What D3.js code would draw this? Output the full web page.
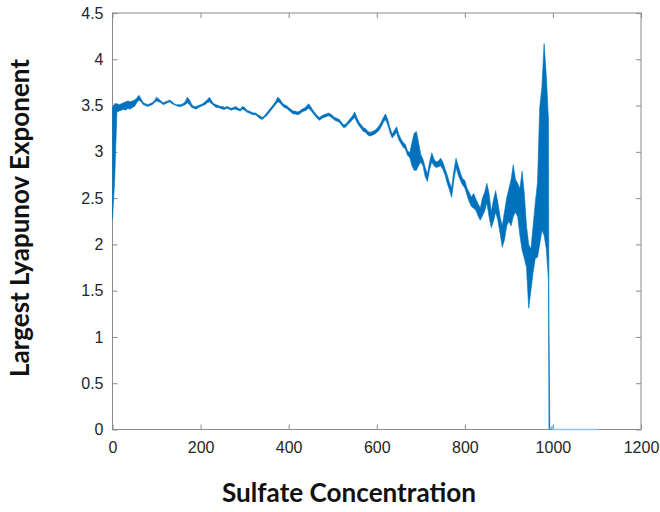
<!DOCTYPE html>
<html><head><meta charset="utf-8">
<script src="https://cdn.jsdelivr.net/npm/d3@7"></script>
<style>body{margin:0;background:#fff}</style>
</head><body>
<svg id="c" width="660" height="512"></svg>
<script>
// Sulfate concentration sample positions
const concentration = [
  0,5,10,15,20,25,30,35,40,45,
  50,55,60,65,70,75,80,85,90,95,
  100,105,110,115,120,125,130,135,140,145,
  150,155,160,165,170,175,180,185,190,195,
  200,205,210,215,220,225,230,235,240,245,
  250,255,260,265,270,275,280,285,290,295,
  300,305,310,315,320,325,330,335,340,345,
  350,355,360,365,370,375,380,385,390,395,
  400,405,410,415,420,425,430,435,440,445,
  450,455,460,465,470,475,480,485,490,495,
  500,505,510,515,520,525,530,535,540,545,
  550,555,560,565,570,575,580,585,590,595,
  600,605,610,615,620,625,630,635,640,645,
  650,655,660,665,670,675,680,685,690,695,
  700,705,710,715,720,725,730,735,740,745,
  750,755,760,765,770,775,780,785,790,795,
  800,805,810,815,820,825,830,835,840,845,
  850,855,860,865,870,875,880,885,890,895,
  900,905,910,915,920,925,930,935,940,945,
  950,955,960,965,970,975,980,985,990,
  991,993,998,1000,1100
];
// Lower edge of the Lyapunov exponent trace at each position
const lyapunovLow = [
  2.27,2.70,3.43,3.44,3.45,3.46,3.45,3.47,3.46,3.48,
  3.49,3.53,3.56,3.54,3.51,3.50,3.49,3.50,3.51,3.53,
  3.55,3.54,3.53,3.51,3.52,3.53,3.54,3.52,3.51,3.50,
  3.49,3.49,3.50,3.51,3.53,3.51,3.48,3.47,3.46,3.48,
  3.49,3.50,3.51,3.53,3.54,3.52,3.50,3.48,3.48,3.47,
  3.46,3.46,3.47,3.46,3.45,3.46,3.46,3.45,3.44,3.46,
  3.45,3.43,3.42,3.41,3.40,3.40,3.38,3.36,3.35,3.37,
  3.39,3.42,3.45,3.48,3.51,3.54,3.53,3.50,3.48,3.47,
  3.45,3.43,3.41,3.41,3.40,3.41,3.43,3.44,3.45,3.47,
  3.45,3.42,3.39,3.36,3.34,3.36,3.37,3.38,3.39,3.38,
  3.36,3.34,3.33,3.32,3.29,3.26,3.27,3.30,3.32,3.35,
  3.37,3.32,3.28,3.25,3.22,3.21,3.18,3.17,3.18,3.19,
  3.21,3.23,3.27,3.32,3.35,3.29,3.21,3.15,3.18,3.21,
  3.13,3.09,3.05,3.03,2.96,2.94,2.85,2.80,2.80,2.85,
  2.89,2.85,2.73,2.68,2.81,2.89,2.85,2.83,2.84,2.85,
  2.81,2.75,2.66,2.59,2.51,2.69,2.83,2.75,2.69,2.64,
  2.61,2.53,2.46,2.41,2.39,2.37,2.31,2.26,2.31,2.36,
  2.45,2.30,2.18,2.25,2.35,2.26,2.12,1.97,2.05,2.20,
  2.25,2.20,2.30,2.35,2.30,2.10,1.94,1.85,1.75,1.31,
  1.50,1.70,1.85,1.86,2.00,2.15,2.10,1.95,1.61,
  0,0,0,0,0
];
// Upper edge of the Lyapunov exponent trace at each position
const lyapunovHigh = [
  3.48,3.52,3.52,3.51,3.52,3.53,3.54,3.55,3.54,3.55,
  3.56,3.58,3.61,3.57,3.53,3.52,3.51,3.52,3.53,3.55,
  3.59,3.57,3.55,3.53,3.54,3.55,3.56,3.54,3.52,3.51,
  3.51,3.51,3.52,3.54,3.59,3.56,3.51,3.49,3.49,3.50,
  3.51,3.52,3.54,3.56,3.59,3.55,3.52,3.51,3.50,3.49,
  3.49,3.48,3.49,3.48,3.47,3.48,3.49,3.47,3.46,3.49,
  3.48,3.45,3.44,3.43,3.42,3.42,3.40,3.39,3.37,3.39,
  3.42,3.45,3.48,3.51,3.54,3.59,3.57,3.53,3.51,3.50,
  3.48,3.46,3.44,3.44,3.43,3.44,3.46,3.47,3.49,3.52,
  3.49,3.45,3.42,3.39,3.37,3.39,3.40,3.41,3.42,3.41,
  3.39,3.37,3.36,3.35,3.32,3.29,3.30,3.33,3.36,3.39,
  3.43,3.37,3.32,3.29,3.26,3.25,3.22,3.21,3.22,3.23,
  3.25,3.28,3.32,3.37,3.41,3.35,3.26,3.19,3.23,3.27,
  3.19,3.14,3.10,3.08,3.01,2.99,3.10,3.20,3.22,3.10,
  2.97,2.92,2.83,2.76,2.89,2.99,2.92,2.89,2.90,2.93,
  2.89,2.82,2.75,2.67,2.61,2.79,2.93,2.85,2.77,2.71,
  2.69,2.61,2.56,2.51,2.55,2.49,2.44,2.39,2.50,2.56,
  2.66,2.55,2.35,2.48,2.58,2.45,2.30,2.20,2.35,2.50,
  2.60,2.70,2.86,2.70,2.66,2.60,2.79,2.55,2.20,2.00,
  1.95,2.20,2.45,2.67,3.48,3.70,4.17,3.82,3.34,
  1.16,0,0.03,0,0
];
const xTicks = [0,200,400,600,800,1000,1200];
const yTicks = [0,0.5,1,1.5,2,2.5,3,3.5,4,4.5];
const xTitle = "Sulfate Concentration";
const yTitle = "Largest Lyapunov Exponent";

const svg = d3.select("#c");
const L = 112.5, R = 641, T = 13, B = 429.5;
const x = d3.scaleLinear().domain([0, 1200]).range([L, R]);
const y = d3.scaleLinear().domain([0, 4.5]).range([B, T]);
const axisColor = "#8a8a8a", textColor = "#262626", lineColor = "#0072BD";

svg.append("rect").attr("x", L).attr("y", T).attr("width", R - L).attr("height", B - T).attr("fill", "#fff");

function styleAxis(g, labels) {
  g.select(".domain").remove();
  g.selectAll(".tick line").attr("stroke", axisColor);
  g.selectAll(".tick text").attr("fill", textColor)
    .style("font-family", "'Liberation Sans', Arial, sans-serif").style("font-size", "16px");
  if (!labels) g.selectAll(".tick text").remove();
}
svg.append("g").attr("transform", `translate(0,${B})`)
  .call(d3.axisBottom(x).tickValues(xTicks).tickSizeInner(-5).tickSizeOuter(0).tickPadding(12).tickFormat(d3.format("d")))
  .call(g => styleAxis(g, true));
svg.append("g").attr("transform", `translate(0,${T})`)
  .call(d3.axisTop(x).tickValues(xTicks).tickSizeInner(-5).tickSizeOuter(0))
  .call(g => styleAxis(g, false));
svg.append("g").attr("transform", `translate(${L},0)`)
  .call(d3.axisLeft(y).tickValues(yTicks).tickSizeInner(-5).tickSizeOuter(0).tickPadding(9).tickFormat(d => String(d)))
  .call(g => styleAxis(g, true));
svg.append("g").attr("transform", `translate(${R},0)`)
  .call(d3.axisRight(y).tickValues(yTicks).tickSizeInner(-5).tickSizeOuter(0))
  .call(g => styleAxis(g, false));

svg.append("rect").attr("x", L).attr("y", T).attr("width", R - L).attr("height", B - T)
  .attr("fill", "none").attr("stroke", axisColor).attr("stroke-width", 1);

// trace drawn as the band between its lower and upper edges
const trace = concentration.map((c, i) => ({ c, lo: lyapunovLow[i], hi: lyapunovHigh[i] }));
const band = d3.area().x(d => x(d.c)).y0(d => y(d.lo)).y1(d => y(d.hi));
svg.append("path").attr("d", band(trace))
  .attr("fill", lineColor).attr("stroke", lineColor).attr("stroke-width", 0.6)
  .attr("stroke-linejoin", "round");
// thin tail along zero
svg.append("path")
  .attr("d", d3.line().x(d => x(d.c)).y(d => y(d.hi))(trace.filter(d => d.c >= 993)))
  .attr("fill", "none").attr("stroke", "#8fc3ea").attr("stroke-width", 1.5);

function fitTitle(t, target) {
  const w = t.node().getComputedTextLength();
  if (w > 0) t.style("font-size", (20 * target / w).toFixed(2) + "px");
}
const xt = svg.append("text").text(xTitle)
  .attr("x", 349).attr("y", 502).attr("text-anchor", "middle")
  .style("font-family", "Lato, 'Open Sans', sans-serif").style("font-weight", 700)
  .style("font-size", "20px").attr("fill", "#111");
fitTitle(xt, 254);
const yt = svg.append("text").text(yTitle)
  .attr("transform", "translate(29,218) rotate(-90)").attr("text-anchor", "middle")
  .style("font-family", "Lato, 'Open Sans', sans-serif").style("font-weight", 700)
  .style("font-size", "20px").attr("fill", "#111");
fitTitle(yt, 318);
</script>
</body></html>
